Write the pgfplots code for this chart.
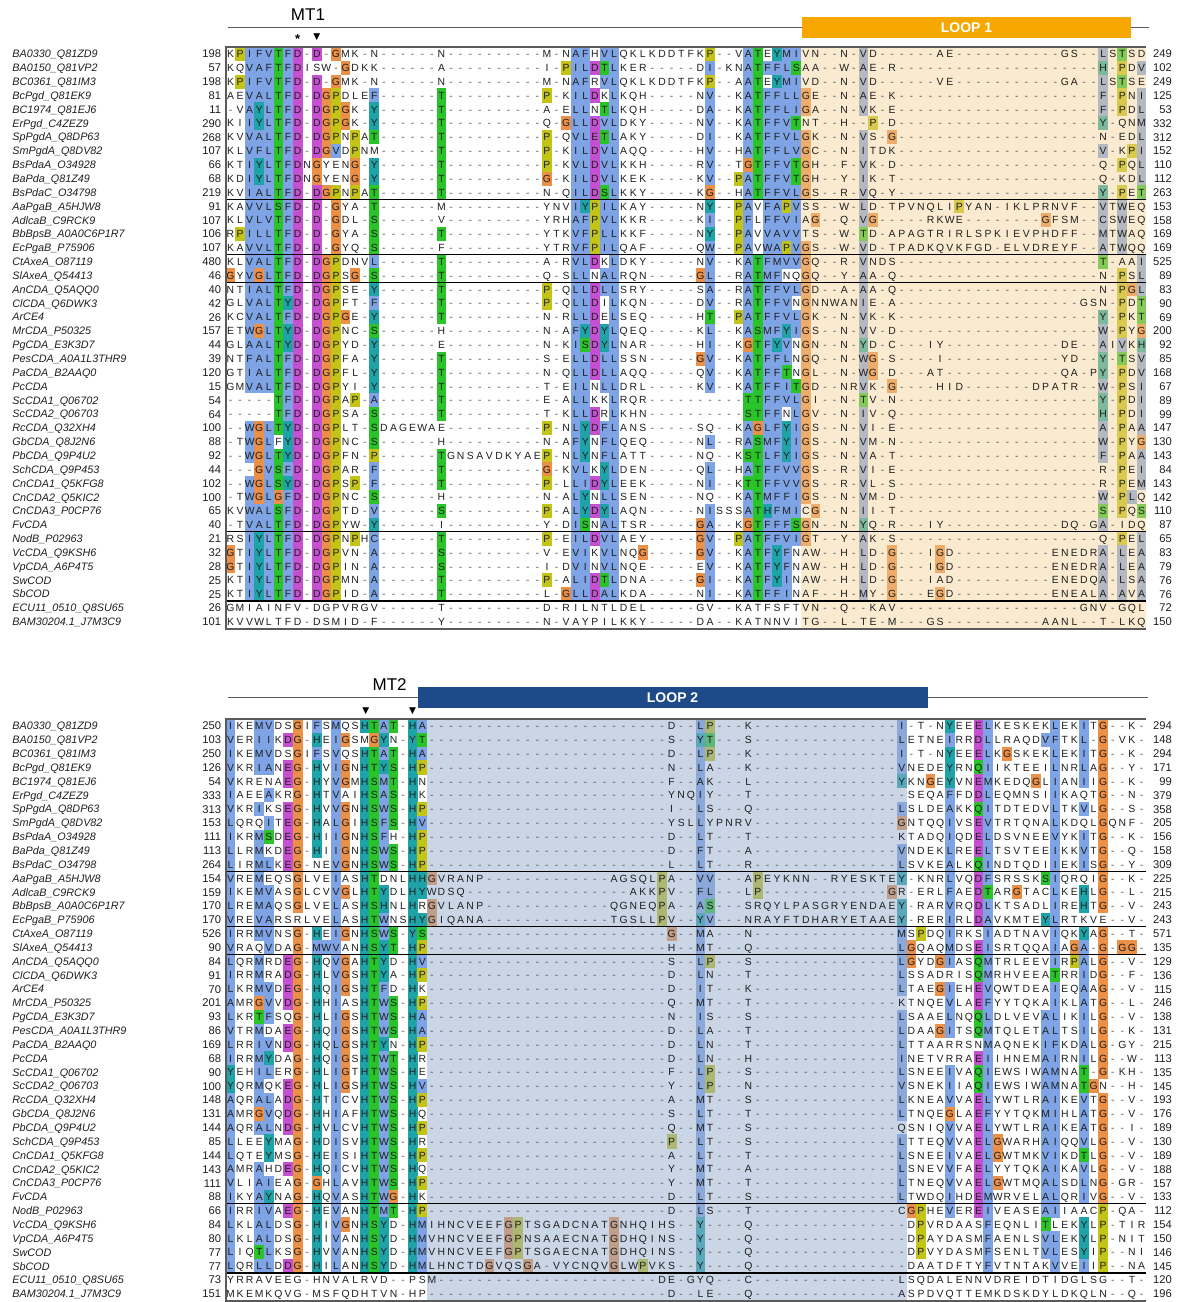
\documentclass[border=0pt]{standalone}
\usepackage{pgfplots}
\pgfplotsset{compat=1.18}
\usepackage{fontspec}
\setmainfont{Liberation Sans}
\newfontfamily\symfont{DejaVu Sans}

% residue classes (Clustal-like)
\definecolor{resblue}{RGB}{126,164,230}
\definecolor{resgreen}{RGB}{40,196,40}
\definecolor{resmag}{RGB}{198,80,210}
\definecolor{resorange}{RGB}{236,144,72}
\definecolor{resyellow}{RGB}{196,196,22}
\definecolor{resteal}{RGB}{30,164,168}
\definecolor{resred}{RGB}{230,50,50}
\definecolor{resgray}{RGB}{170,170,170}
\definecolor{loopAshade}{RGB}{244,210,150}
\definecolor{loopBshade}{RGB}{150,172,205}
\definecolor{loopAbar}{RGB}{246,168,0}
\definecolor{loopBbar}{RGB}{30,74,138}
\definecolor{resink}{RGB}{30,30,30}
\definecolor{gapink}{RGB}{90,90,90}
\definecolor{frameink}{RGB}{90,90,90}

\colorlet{rcA}{resblue}\colorlet{rcI}{resblue}\colorlet{rcL}{resblue}
\colorlet{rcM}{resblue}\colorlet{rcF}{resblue}\colorlet{rcW}{resblue}
\colorlet{rcV}{resblue}\colorlet{rcC}{resblue}
\colorlet{rcK}{resred}\colorlet{rcR}{resred}
\colorlet{rcD}{resmag}\colorlet{rcE}{resmag}
\colorlet{rcN}{resgreen}\colorlet{rcQ}{resgreen}\colorlet{rcS}{resgreen}\colorlet{rcT}{resgreen}
\colorlet{rcG}{resorange}\colorlet{rcP}{resyellow}
\colorlet{rcH}{resteal}\colorlet{rcY}{resteal}
\colorlet{rcB}{resgray}\colorlet{rcJ}{resgray}\colorlet{rcO}{resgray}
\colorlet{rcU}{resgray}\colorlet{rcX}{resgray}\colorlet{rcZ}{resgray}

\newdimen\cw \cw=4.795pt
\newcount\rescol
\newcount\alnk
\newcommand\resfont{\fontsize{5.2}{6}\selectfont}
\newcommand\numfont{\fontsize{5.6}{6.5}\selectfont}
\newcommand\namefont{\fontsize{5.4}{6.5}\selectfont\itshape}

% Row strings: upper case = shaded residue, lower case = plain residue,
% '-' = gap, a digit n = run of n gaps, '|' = block separator (ignored).

% ---- pass 1: shaded cells
\def\alncell#1{%
  \pgfmathsetmacro\xa{\the\rescol-0.01}%
  \pgfmathsetmacro\xb{\the\rescol+1.01}%
  \fill[rc#1] (axis cs:\xa,\ya) rectangle (axis cs:\xb,\yb);}
\def\alnfillone#1{%
  \ifx#1|\else
   \ifx#1-\advance\rescol by 1\relax\else
    \ifnum`#1<58 \advance\rescol by #1\relax\else
     \ifnum`#1<91 \alncell{#1}\fi
     \advance\rescol by 1\relax
    \fi
   \fi
  \fi}
\def\alnfillloop#1{%
  \ifx#1\relax\let\alnnext\relax\else\alnfillone#1\let\alnnext\alnfillloop\fi
  \alnnext}
\def\alnfillrow#1#2#3#4{%
  \pgfmathsetmacro\ya{#1-0.51}%
  \pgfmathsetmacro\yb{#1+0.51}%
  \rescol=0
  \alnfillloop#3\relax}

% ---- pass 2: letters and residue numbers
\def\alngap{\makebox[\cw]{\textcolor{gapink}{-}}}
\def\alngaploop{\ifnum\alnk>0 \alngap\advance\alnk by -1\relax\expandafter\alngaploop\fi}
\def\alngaps#1{\alnk=#1\relax\alngaploop}
\def\alntextone#1{%
  \ifx#1|\else
   \ifx#1-\alngap\else
    \ifnum`#1<58 \alngaps{#1}\else
     \makebox[\cw]{\uppercase{#1}}%
    \fi
   \fi
  \fi}
\def\alntextloop#1{%
  \ifx#1\relax\let\alnnextt\relax\else\alntextone#1\let\alnnextt\alntextloop\fi
  \alnnextt}
\def\alntextrow#1#2#3#4{%
  \node[anchor=base west, inner sep=0pt, outer sep=0pt, font=\resfont, text=resink, yshift=-1.86pt]
    at (axis cs:0,#1) {\alntextloop#3\relax};
  \node[anchor=base east, inner sep=0pt, font=\numfont, text=resink, yshift=-2pt]
    at (axis cs:-0.45,#1) {#2};
  \node[anchor=base east, inner sep=0pt, font=\numfont, text=resink, yshift=-2pt]
    at (axis cs:98.7,#1) {#4};}
\def\alnname#1#2{%
  \node[anchor=base west, inner sep=0pt, font=\namefont, text=resink, yshift=-1.95pt]
    at (axis cs:-22.28,#1) {#2};}

\def\namelist{%
\N{1}{BA0330\_Q81ZD9}\N{2}{BA0150\_Q81VP2}\N{3}{BC0361\_Q81IM3}\N{4}{BcPgd\_Q81EK9}%
\N{5}{BC1974\_Q81EJ6}\N{6}{ErPgd\_C4ZEZ9}\N{7}{SpPgdA\_Q8DP63}\N{8}{SmPgdA\_Q8DV82}%
\N{9}{BsPdaA\_O34928}\N{10}{BaPda\_Q81Z49}\N{11}{BsPdaC\_O34798}\N{12}{AaPgaB\_A5HJW8}%
\N{13}{AdlcaB\_C9RCK9}\N{14}{BbBpsB\_A0A0C6P1R7}\N{15}{EcPgaB\_P75906}\N{16}{CtAxeA\_O87119}%
\N{17}{SlAxeA\_Q54413}\N{18}{AnCDA\_Q5AQQ0}\N{19}{ClCDA\_Q6DWK3}\N{20}{ArCE4}%
\N{21}{MrCDA\_P50325}\N{22}{PgCDA\_E3K3D7}\N{23}{PesCDA\_A0A1L3THR9}\N{24}{PaCDA\_B2AAQ0}%
\N{25}{PcCDA}\N{26}{ScCDA1\_Q06702}\N{27}{ScCDA2\_Q06703}\N{28}{RcCDA\_Q32XH4}%
\N{29}{GbCDA\_Q8J2N6}\N{30}{PbCDA\_Q9P4U2}\N{31}{SchCDA\_Q9P453}\N{32}{CnCDA1\_Q5KFG8}%
\N{33}{CnCDA2\_Q5KIC2}\N{34}{CnCDA3\_P0CP76}\N{35}{FvCDA}\N{36}{NodB\_P02963}%
\N{37}{VcCDA\_Q9KSH6}\N{38}{VpCDA\_A6P4T5}\N{39}{SwCOD}\N{40}{SbCOD}%
\N{41}{ECU11\_0510\_Q8SU65}\N{42}{BAM30204.1\_J7M3C9}}

% ---- block 1: MT1 and loop 1
\def\topdata{%
\R{1}{198}{kPIFVTFD-D-Gmk-n|6|n|55|m-nAFhVLqklkddtfkP|--vATeYMIvn|--n-Vd6ae92gs--LsTsd}{249}%
\R{2}{57}{kqVAFTFDisw-Gdkk|6|a|55|i-PILDTLker5dI|-knATFFLSaa|--w-Ae-r993H-PdV}{102}%
\R{3}{198}{kPIFVTFD-D-Gmk-n|6|n|55|m-nAFrVLqklkddtfkP|--aATeYMIvd|--n-Vd6ve92ga--LsTse}{249}%
\R{4}{81}{aeVALTFD-DGPdleF|6|T|55|P-kILDkLkqh5nV|--kATFFLLGe|--n-Ae-k993F-PnI}{125}%
\R{5}{11}{-vAYLTFD-DGPGk-Y|6|T|55|a-eLLnTLkqh5dA|--kATFFLIGa|--n-Vk-e993F-PdL}{53}%
\R{6}{290}{kiIYLTFD-DGPGk-Y|6|T|55|q-GLLDVLdky5nV|--kATFFVTnt|--h--P-d993Y-qnM}{332}%
\R{7}{268}{kvVALTFD-DGPnPaT|6|T|55|P-qVLETLaky5dI|--kATFFVLGk|--n-Vs-G993n-edL}{312}%
\R{8}{107}{klVFLTFD-DGVdPnm|6|T|55|P-kILDVLaqq5hV|--hATFFLVGc|--n-Itdk993V-kPI}{152}%
\R{9}{66}{ktIYLTFDnGyenG-Y|6|T|55|P-kVLDVLkkh5rV|--tGTFFVTGh|--f-Vk-d993q-PqL}{110}%
\R{10}{68}{kdIYLTFDnGyenG-Y|6|T|55|G-kILDVLkek5kV|--PATFFVTGh|--y-Ik-t993q-kdL}{112}%
\R{11}{219}{kvIALTFD-DGPnPaT|6|T|55|n-qILDSLkky5kG|--hATFFVLGs|--r-Vq-y993Y-PeT}{263}%
\R{12}{91}{kaVVLSFD-D-Gya-T|6|m|55|ynvIYPILkay5nY|--PAvFAPVss|--w-Ld-tpvnqliPyan-iklprnvf--VtWeq}{153}%
\R{13}{107}{klVLVTFD-D-Gdl-S|6|v|55|yrhAFPVLkkr5kI|--PFlFFVIaG|--q-VG5rkwe8Gfsm--CsWeq}{158}%
\R{14}{106}{rPILLTFD-D-Gya-S|6|T|55|ytkVFPLLkkf5nY|--PAvVAVVts|--w-Td-apagtrirlspkievphdff--MtWaq}{169}%
\R{15}{107}{kaVVLTFD-D-Gyq-S|6|f|55|ytrVFPILqaf5qW|--PAvWAPVGs|--w-Vd-tpadkqvkfgd-elvdreyf--AtWqq}{169}%
\R{16}{480}{klVALTFD-DGPdnvL|6|T|55|a-rVLDkLdky5nV|--kATFMVVGq|--r-Vnds993T-aaI}{525}%
\R{17}{46}{GyVGLTFD-DGPsG-S|6|T|55|q-sLLnALrqn5GL|--rATMFnqGq|--y-Aa-q993n-PsL}{89}%
\R{18}{40}{ntIALTFD-DGPse-Y|6|T|55|P-qLLDLLsry5sA|--rATFFVLGd|--a-Aa-q993n-PGL}{83}%
\R{19}{42}{glVALTYD-DGPft-F|6|T|55|P-qLLDiLkqn5dV|--rATFFVnGn|nwanIe-a991gsn-PdT}{90}%
\R{20}{26}{kcVALTFD-DGPGe-Y|6|T|55|n-rLLDeLseq5hT|--PATFFVLGk|--n-Vk-k993Y-PkT}{69}%
\R{21}{157}{etWGLTYD-DGPnc-S|6|h|55|n-aFYDYLqeq5kL|--kASMFYIGs|--n-Vv-d993W-PyG}{200}%
\R{22}{44}{glAALTYD-DGPyd-Y|6|e|55|n-kISDYLnar5hI|--kGTFYVnGn|--n-Yd-c3iy93de--AiVkH}{92}%
\R{23}{39}{ntFALTFD-DGPfa-Y|6|T|55|s-eLLDLLssn5GV|--kATFFLnGq|--n-WG-s4i93yd--Y-TsV}{85}%
\R{24}{120}{gtIALTFD-DGPfl-Y|6|T|55|n-qLLDLLaqq5qV|--kATFFTnGl|--n-WG-d3at93qa-pY-PdV}{168}%
\R{25}{15}{gmVALTFD-DGPyi-Y|6|T|55|t-eILnLLdrl5kV|--kATFFITGd|--nrVk-G4hid7dpatr--W-PsI}{67}%
\R{26}{54}{5TFD-DGPaP-A|6|T|55|e-aLLkkLrqr7|---TTFFVLGi|--n-Tv-n993Y-PdI}{89}%
\R{27}{64}{5TFD-DGPsa-S|6|T|55|t-kLLDrLkhn7|---STFFnLGv|--n-Iv-q993H-PdI}{99}%
\R{28}{100}{--WGLTYD-DGPlt-S|dagewa|e|55|P-nLYDFLans5sq|--kAGLFYIGs|--n-Vi-e993A-PaA}{147}%
\R{29}{88}{-tWGLfYD-DGPnc-S|6|h|55|n-aFYnFLqeq5nL|--rASMFYIGs|--n-Vm-n993W-PyG}{130}%
\R{30}{92}{--WGLTYD-DGPfn-P|6|T|gnsavdkyae|P-nLYnFLatt5nq|--kSTLFYIGs|--n-Va-t993F-PaA}{143}%
\R{31}{44}{---GVSFD-DGPar-F|6|T|55|G-kVLkYLden5qL|--hATFFVVGs|--r-Vi-e993r-PeI}{84}%
\R{32}{102}{--WGLSYD-DGPsP-F|6|T|55|P-lLIDYLeek5nI|--kTTFFVVGs|--r-Vl-s993r-PeM}{143}%
\R{33}{100}{-tWGLGFD-DGPnc-S|6|h|55|n-aLYnLLsen5nq|--kATMFFIGs|--n-Vm-d993W-PLq}{142}%
\R{34}{65}{kvWALSFD-DGPtd-V|6|S|55|P-aLYDYLaqn5nI|sssATHFMIcG|--n-Ii-t993S-PqS}{110}%
\R{35}{40}{-tVALTFD-DGPyw-Y|6|i|55|y-dISnALtsr5GA|--kGTFFFSGn|--n-Yq-r3iy93dq-gA-idq}{87}%
\R{36}{21}{rsIYLTFD-DGPnPhC|6|T|55|P-eILDVLaey5GV|--PATFFVIGt|--y-Ak-s993q-PeL}{65}%
\R{37}{32}{GtIYLTFD-DGPvn-A|6|S|55|v-eVIkVLnqG5GV|--kATFYFnaw|--h-Ld-G3iGd91enedrA-LeA}{83}%
\R{38}{28}{GtIYLTFD-DGPin-A|6|S|55|i-dVInVLnqe5eV|--kATFYFnaw|--h-Ld-G3iGd91enedrA-LeA}{79}%
\R{39}{25}{ktIYLTFD-DGPmn-A|6|T|55|P-aLIDTLdna5GI|--kATFYInaw|--h-Ld-G3iad91enedqA-LsA}{76}%
\R{40}{25}{ktIYLTFD-DGPid-A|6|T|55|l-GLLDALkda5nI|--kATFFInaf|--h-My-G3eGd91enealA-AvA}{76}%
\R{41}{26}{gmiainfv-dgpvrgv|6|t|55|d-rilntldel5gv|--katfsftvn|--q--kav991gnv-gql}{72}%
\R{42}{101}{kvvwltfd-dsmid-f|6|y|55|n-vaypilkky5da|--katnnvitg|--l-te-m3gs91aanl--t-lkq}{150}%
}

% ---- block 2: MT2 and loop 2
\def\botdata{%
\R{1}{250}{IkeMVdsGiFsMqsHTAT-HA|9952|d|--LP---k96|I-t-nYeeELkeskekLekItG--k-}{294}%
\R{2}{103}{VerIIkDG-HeIGsmGYn-YT|9952|s|--YT---s96|LetneIrrDLlraqdVFtkL-G-vk-}{148}%
\R{3}{250}{IkeMVdsGiFsVqsHTAT-HA|9952|d|--LP---k96|I-t-nYeeELkGskekLekItG--k-}{294}%
\R{4}{126}{VkrIAnEG-HvIGnHTYS-HP|9952|n|--La---k96|VnedeYrnQIikteeiLnrLaG--y-}{171}%
\R{5}{54}{VkrenaEG-HyVGmHSMT-Hn|9952|f|--Ak---l96|YknGeYvnEMkedqGlIanIiG--k-}{99}%
\R{6}{333}{IaeeAkrG-HtVaiHSAS-Hk|9952|y|nqIy---t96|-seqaFfdDLeqmnsiIkaqtG--n-}{379}%
\R{7}{313}{VkrIksEG-HvVGnHSWS-HP|9952|i|--Ls---q96|LsldeAkkQItdtedvLtkVlG--s-}{358}%
\R{8}{153}{LqrqItEG-HaLGiHSFS-HV|9952|y|slLypnrv96|GntqqIvsEVtrtqnaLkdqlGqnf-}{205}%
\R{9}{111}{IkrMSdEG-HiIGnHSFh-HP|9952|d|--Lt---t96|ktadqIqdELdsvneeVykItG--k-}{156}%
\R{10}{113}{LlrMkdEG-HiIGnHSWS-HP|9952|d|--Ft---a96|VndekLreELtsvteeIkkVtG--q-}{158}%
\R{11}{264}{LirMLkEG-neVGnHSWS-HP|9952|l|--Lt---r96|LsvkeAlkQIndtqdiIekIsG--y-}{309}%
\R{12}{154}{VreMeqsGlveIasHTdnlHH|Gvranp94agsqlP|a|--VV---aPeyknn--ryeskte|Y-knrLvqDFsrsskSIqrqiG--k-}{225}%
\R{13}{159}{IkeMVasGlcvVGlHTYdlHY|wdsq98akkP|v|--FL---lP94G|r-erlFaeDTarGtacLkeHlG--l-}{215}%
\R{14}{170}{LreMAqsGlveLasHSHnlHr|Gvlanp94qgneqP|a|--AS---srqylpasgryendae|Y-rarVrqDLktsadlIreHtG--v-}{243}%
\R{15}{170}{VreVArsrlveLasHTWnsHY|Giqana94tgsllP|v|--YV---nrayftdharyetaae|Y-rerIrlDAvkmteYLrtkve--v-}{243}%
\R{16}{526}{IrrMVnsG-HeIGnHSWS-YS|9952|G|--Ma---n96|MsPdqIrksIadtnavIqkYaG--t-}{571}%
\R{17}{90}{VraqVdaG-MWVanHSYT-HP|9952|h|--Mt---q96|LGqaqMdsEIsrtqqaIaGA-G-GG-}{135}%
\R{18}{84}{LqrMrdEG-HqVGaHTYd-HV|9952|s|--LP---s96|LGydGIasQMtrleevIrPAlG--v-}{129}%
\R{19}{91}{IrrMraDG-HlVGsHTYa-HP|9952|d|--Ln---t96|LssadrisQMrhveeaTrrIdG--f-}{136}%
\R{20}{70}{LkrMVdEG-HqIGsHTFd-Hk|9952|d|--It---k96|LtaeGIehEVqwtdeaIeqAaG--v-}{115}%
\R{21}{201}{AmrGVvDG-HhIasHTWS-HP|9952|q|--Mt---t96|ktnqeVlaEFyytqkaIklAtG--l-}{246}%
\R{22}{93}{LkrTFsqG-HlIGsHTWS-HA|9952|n|--Is---s96|LsaaeLnqQLdlvevALikIlG--v-}{138}%
\R{23}{86}{VtrMdaEG-HqIGsHTWS-HA|9952|d|--La---t96|LdaaGItsQMtqletALtsIlG--k-}{131}%
\R{24}{169}{LrrIVnDG-HqLGsHTYn-HP|9952|d|--Ln---t96|LttaarrsnMaqnekIFkdAlG-gy-}{215}%
\R{25}{68}{IrrMYdaG-HqIGsHTWT-Hr|9952|d|--Ln---h96|InetvrraEIihnemAIrnIlG--w-}{113}%
\R{26}{90}{YehILerG-HlIGtHTWS-He|9952|f|--LP---s96|LsneeIvaQIewsiwAMnaT-G-kh-}{135}%
\R{27}{100}{YqrMqkEG-HlIGsHTWS-HV|9952|y|--LP---n96|VsnekIiaQIewsiwAMnaTGn--h-}{145}%
\R{28}{148}{AqrALaDG-HtIcvHTWS-HP|9952|a|--Mt---s96|LkneaVvaELywtlrAIkeVtG--v-}{193}%
\R{29}{131}{AmrGVqDG-HhIafHTWS-Hq|9952|s|--Lt---t96|LtnqeGlaEFyytqkMIhlAtG--v-}{176}%
\R{30}{144}{AqrALnDG-HvLcvHTWS-HP|9952|q|--Mt---s96|qsniqVvaELywtlrAIkeAtG--i-}{189}%
\R{31}{85}{LleeYmaG-HdIsvHTWS-Hr|9952|P|--Lt---s96|LtteqVvaELGwarhAIqqVlG--v-}{130}%
\R{32}{144}{LqteYmsG-HeIsiHTWS-HP|9952|a|--Lt---t96|LsneeIvaELGwtmkVIkdTlG--v-}{189}%
\R{33}{143}{AmrAhdEG-HqIcvHTWS-Hq|9952|y|--Mt---a96|LsnevVfaELyytqkAIkaVlG--v-}{188}%
\R{34}{111}{VliAIeaG-GhLavHTWS-HP|9952|y|--Mt---t96|LtneqVvaELGwtmqALsdLnG-gr-}{157}%
\R{35}{88}{IkyAYnaG-HqVasHTWG-Hk|9952|d|--Lt---s96|LtwdqIhdEMwrvelALqrIvG--v-}{133}%
\R{36}{66}{IrrIVaEG-HeVanHTMT-HP|9952|d|--Ls---t96|cGPheVerEIveaseAIiaacP-qa-}{112}%
\R{37}{84}{LklALdsG-HiVGnHSYd-HM|ihncveefGPtsgadcnatGnhqih|s|--Y4q96|-dPvrdaasFeqnliTlekYlP-tir}{154}%
\R{38}{80}{LklALdsG-HiVanHSYd-HM|vhncveefGPnsaaecnatGdhqin|s|--Y4q96|-dPaydasmFaenlsVLekYlP-nit}{150}%
\R{39}{77}{LiqTLksG-HvVanHSYd-HM|vhncveefGPtsgaecnatGdhqin|s|--Y4q96|-dPvydasmFsenltVLesYiP--ni}{146}%
\R{40}{77}{LqrLLdDG-HiLanHSYd-HM|lhnctdGvqsGa-vycnqvGlwPvk|s|--Y4q96|-daatdftyFvtntakVveIiP--na}{145}%
\R{41}{73}{yrraveeg-hnvalrvd--ps|m995d|e|-gyq---c96|lsqdalennvdreidtidglsg--t-}{120}%
\R{42}{151}{mkemkqvg-msfqdhtvn-hp|9952|d|--le---q96|aspdvqttemkdskdyldkqln--q-}{196}%
}

\pgfplotsset{alnaxis/.style={
  anchor=north west, x=4.795pt, y=6.925pt, y dir=reverse,
  xmin=0, xmax=96, ymin=0.5, ymax=42.5, hide axis, clip=false}}

\newcommand\blockframe{%
  \foreach \s in {11.5,15.5,17.5,35.5,40.5}{\draw[black, line width=0.7pt] (axis cs:0,\s) -- (axis cs:96,\s);}
  \draw[frameink, line width=0.8pt] (axis cs:96,0.5) -- (axis cs:0,0.5) -- (axis cs:0,42.5) -- (axis cs:96,42.5);}

\begin{document}
\begin{tikzpicture}
\useasboundingbox (0,0) rectangle (588.5pt,-651pt);

\begin{axis}[alnaxis, at={(112.85pt,-23.5pt)}]
  \addplot[draw=none] coordinates {(0,1) (96,42)};
  \pgfplotsextra{%
    \let\R\alnfillrow \topdata
    \fill[loopAshade, fill opacity=0.45] (axis cs:60,0.5) rectangle (axis cs:96,42.5);
    \let\R\alntextrow \topdata
    \let\N\alnname \namelist
    \blockframe
    \draw[frameink, line width=0.5pt] (axis cs:0.25,-0.88) -- (axis cs:96.3,-0.88);
    \fill[loopAbar] (axis cs:60.1,-1.67) rectangle (axis cs:94.4,-0.16);
    \node[font=\bfseries\fontsize{7}{8}\selectfont, text=white] at (axis cs:77.25,-0.915) {LOOP 1};
    \node[font=\fontsize{8.5}{9}\selectfont, text=black] at (axis cs:8.58,-1.82) {MT1};
    \node[font=\bfseries\fontsize{6.5}{7}\selectfont, inner sep=0pt] at (axis cs:7.5,-0.05) {*};
    \node[font=\symfont\fontsize{4.5}{5}\selectfont, inner sep=0pt] at (axis cs:9.5,-0.18) {▼};
  }
\end{axis}

\begin{axis}[alnaxis, at={(112.85pt,-359.5pt)}]
  \addplot[draw=none] coordinates {(0,1) (96,42)};
  \pgfplotsextra{%
    \let\R\alnfillrow \botdata
    \fill[loopBshade, fill opacity=0.5] (axis cs:21,0.5) rectangle (axis cs:71,42.5);
    \let\R\alntextrow \botdata
    \let\N\alnname \namelist
    \blockframe
    \draw[frameink, line width=0.5pt] (axis cs:0.25,-1.02) -- (axis cs:96.2,-1.02);
    \fill[loopBbar] (axis cs:20.05,-1.82) rectangle (axis cs:73.2,-0.30);
    \node[font=\bfseries\fontsize{7}{8}\selectfont, text=white] at (axis cs:46.6,-1.06) {LOOP 2};
    \node[font=\fontsize{8.5}{9}\selectfont, text=black] at (axis cs:17.1,-1.96) {MT2};
    \node[font=\symfont\fontsize{4.5}{5}\selectfont, inner sep=0pt] at (axis cs:14.6,-0.05) {▼};
    \node[font=\symfont\fontsize{4.5}{5}\selectfont, inner sep=0pt] at (axis cs:19.5,-0.05) {▼};
  }
\end{axis}
\end{tikzpicture}
\end{document}
